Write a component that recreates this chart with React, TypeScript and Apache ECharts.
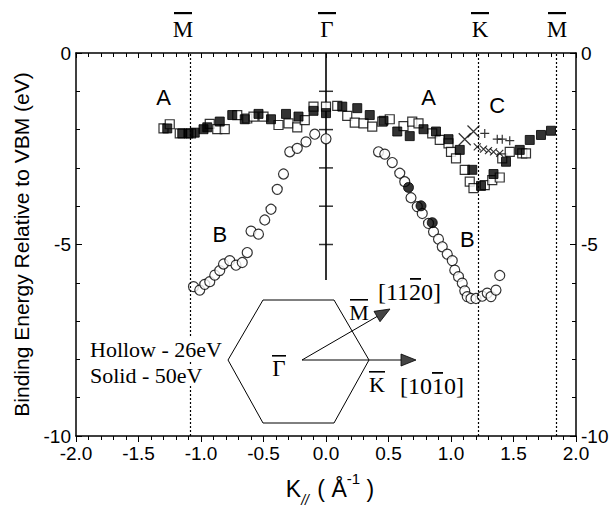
import React, { useEffect, useRef } from "react";
import * as echarts from "echarts";

// ---- data (k in 1/Å, binding energy in eV) ----
const hollowSquares: [number, number][] = [
  [-1.30, -1.97], [-1.25, -1.86], [-1.17, -2.10], [-1.08, -2.10], [-0.93, -1.85], [-0.87, -1.99],
  [-0.81, -1.99], [-0.71, -1.62], [-0.63, -1.71], [-0.58, -1.66], [-0.50, -1.66], [-0.38, -1.88],
  [-0.30, -1.84], [-0.23, -1.94], [-0.17, -1.75], [-0.10, -1.40], [0.0, -1.40], [0.09, -1.38],
  [0.17, -1.64], [0.23, -1.82], [0.30, -1.84], [0.37, -1.92], [0.45, -1.79], [0.51, -1.73],
  [0.62, -1.91], [0.69, -1.79], [0.74, -1.84], [0.85, -2.10], [0.91, -2.27], [0.98, -2.36],
  [1.00, -2.58], [1.04, -2.75], [1.11, -3.05], [1.15, -3.36], [1.18, -3.53], [1.27, -3.45],
  [1.33, -3.32], [1.39, -3.25], [1.41, -2.75], [1.47, -2.58], [1.57, -2.62], [1.60, -2.62],
];
const solidSquares: [number, number][] = [
  [-1.27, -1.97], [-1.15, -2.10], [-1.10, -2.10], [-1.05, -2.08], [-0.98, -1.99], [-0.95, -1.94],
  [-0.85, -1.79], [-0.75, -1.62], [-0.65, -1.73], [-0.54, -1.59], [-0.44, -1.73], [-0.32, -1.59],
  [-0.22, -1.66], [-0.10, -1.51], [0.0, -1.57], [0.13, -1.40], [0.25, -1.44], [0.35, -1.62],
  [0.46, -1.77], [0.57, -2.05], [0.67, -2.17], [0.78, -1.99], [0.88, -2.05], [0.98, -2.25],
  [1.07, -2.53], [1.17, -3.05], [1.24, -3.47], [1.34, -3.16], [1.44, -2.84], [1.55, -2.53],
  [1.63, -2.27], [1.72, -2.14], [1.80, -2.03],
];
const hollowCircles: [number, number][] = [
  [-1.06, -6.10], [-1.01, -6.19], [-0.97, -6.04], [-0.93, -5.97], [-0.89, -5.80], [-0.85, -5.68],
  [-0.82, -5.51], [-0.77, -5.42], [-0.72, -5.54], [-0.67, -5.47], [-0.63, -5.21], [-0.60, -4.65],
  [-0.54, -4.73], [-0.49, -4.36], [-0.44, -4.08], [-0.39, -3.56], [-0.34, -3.16], [-0.29, -2.58],
  [-0.23, -2.49], [-0.16, -2.32], [-0.09, -2.12], [0.0, -2.24],
  [0.42, -2.58], [0.47, -2.64], [0.53, -2.86], [0.59, -3.14], [0.63, -3.36], [0.68, -3.78],
  [0.73, -4.01], [0.77, -4.19], [0.82, -4.45], [0.86, -4.67], [0.90, -4.86], [0.93, -5.06],
  [0.97, -5.25], [1.01, -5.42], [1.03, -5.67], [1.06, -5.84], [1.09, -6.01], [1.11, -6.21],
  [1.13, -6.36], [1.16, -6.41], [1.20, -6.41], [1.25, -6.35], [1.29, -6.27], [1.32, -6.36],
  [1.36, -6.19], [1.39, -5.81],
];
const solidCircles: [number, number][] = [[0.66, -3.51], [0.76, -3.99], [0.85, -4.43]];
const bigCrosses: [number, number][] = [[1.18, -2.05], [1.11, -2.25]];
const smallCrosses: [number, number][] = [[1.21, -2.45], [1.26, -2.51], [1.30, -2.55], [1.34, -2.58], [1.39, -2.62]];
const plusMarks: [number, number][] = [[1.27, -2.10], [1.37, -2.25], [1.41, -2.25], [1.47, -2.29]];
const gammaTicks: number[] = [-1, -2, -3, -4, -5];
const gammaLineEnd = -5.93;
const symmetryLines: number[] = [-1.09, 1.22, 1.84];
const xTicks = { min: -2, max: 2, interval: 0.5 };
const yTicks = { min: -10, max: 0, interval: 5 };

const SANS = "Liberation Sans, Arial, sans-serif";
const SERIF = "Liberation Serif, Times New Roman, serif";

export default function App() {
  const ref = useRef<HTMLDivElement>(null);
  useEffect(() => {
    if (!ref.current) return;
    const chart = echarts.init(ref.current, null, { renderer: "svg" });
    const G = { left: 76, top: 53, width: 500, height: 383 };
    const toPx = (x: number, y: number): [number, number] => [
      G.left + ((x - xTicks.min) / (xTicks.max - xTicks.min)) * G.width,
      G.top + ((yTicks.max - y) / (yTicks.max - yTicks.min)) * G.height,
    ];
    const txt = (text: string, x: number, y: number, size: number, font: string, extra: any = {}) => ({
      type: "text",
      x,
      y,
      z: 100,
      style: { text, fontSize: size, fontFamily: font, fill: "#000", align: "center", verticalAlign: "middle", ...extra },
    });
    const bar = (x1: number, x2: number, y: number, h = 1.8) => ({
      type: "rect",
      z: 100,
      shape: { x: x1, y, width: x2 - x1, height: h },
      style: { fill: "#000" },
    });
    const letters: [string, number, number][] = [
      ["A", -1.30, -1.15],
      ["A", 0.82, -1.15],
      ["B", -0.85, -4.73],
      ["B", 1.13, -4.88],
      ["C", 1.37, -1.36],
    ];
    const topLabels: [string, number][] = [["M", 183], ["Γ", 327], ["K", 480], ["M", 557]];

    // Inset hexagon geometry (decorative Brillouin-zone sketch)
    const hex = [[263, 300], [334, 300], [369, 360], [334, 423], [263, 423], [228, 360]];
    const origin = [302, 360];
    const mTip = [390, 309];
    const kTip = [416, 360];
    const dx = mTip[0] - origin[0], dy = mTip[1] - origin[1];
    const L = Math.hypot(dx, dy);
    const ux = dx / L, uy = dy / L;
    const bx = mTip[0] - 15 * ux, by = mTip[1] - 15 * uy;
    const mHead = [[mTip[0], mTip[1]], [bx - 6 * uy, by + 6 * ux], [bx + 6 * uy, by - 6 * ux]];
    const kHead = [[kTip[0], kTip[1]], [kTip[0] - 15, kTip[1] - 6], [kTip[0] - 15, kTip[1] + 6]];

    const graphic: any[] = [
      ...letters.map(([t, x, y]) => {
        const [px, py] = toPx(x, y);
        return txt(t, px, py, 22, SANS);
      }),
      ...topLabels.map(([t, x]) => txt(t, x, 29, 23, SERIF)),
      ...topLabels.map(([, x]) => bar(x - 9, x + 9, 12, 2.2)),
      txt("Hollow - 26eV", 90, 349, 22, SERIF, { align: "left", backgroundColor: "#fff" }),
      txt("Solid - 50eV", 90, 375, 22, SERIF, { align: "left", backgroundColor: "#fff" }),
      { type: "polygon", z: 90, shape: { points: hex }, style: { fill: "none", stroke: "#000", lineWidth: 1 } },
      { type: "line", z: 90, shape: { x1: origin[0], y1: origin[1], x2: mTip[0] - 8 * ux, y2: mTip[1] - 8 * uy }, style: { stroke: "#000", lineWidth: 1 } },
      { type: "line", z: 90, shape: { x1: origin[0], y1: origin[1], x2: kTip[0] - 8, y2: kTip[1] }, style: { stroke: "#000", lineWidth: 1 } },
      { type: "polygon", z: 91, shape: { points: mHead }, style: { fill: "#444", stroke: "#000", lineWidth: 0.8 } },
      { type: "polygon", z: 91, shape: { points: kHead }, style: { fill: "#444", stroke: "#000", lineWidth: 0.8 } },
      txt("Γ", 279, 368, 23, SERIF),
      bar(272, 286, 355, 1.6),
      txt("M", 359, 312, 22, SERIF),
      bar(350, 368, 299, 1.6),
      txt("K", 377, 384, 22, SERIF),
      bar(369, 385, 371, 1.6),
      txt("[1120]", 378, 292, 24, SERIF, { align: "left" }),
      bar(410, 421, 278, 1.8),
      txt("[1010]", 400, 386, 24, SERIF, { align: "left" }),
      bar(432, 443, 372, 1.8),
      {
        type: "text",
        x: 330,
        y: 489,
        z: 100,
        style: {
          text: "{k|K}{s|//}{n| ( }{a|Å}{p|-1}{n| )}",
          align: "center",
          verticalAlign: "middle",
          rich: {
            k: { fontSize: 23, fontFamily: SANS, fill: "#000", lineHeight: 36, verticalAlign: "middle" },
            s: { fontSize: 14, fontFamily: SANS, fontStyle: "italic", fill: "#000", lineHeight: 36, verticalAlign: "bottom", padding: [0, 2, 0, 0] },
            n: { fontSize: 23, fontFamily: SANS, fill: "#000", lineHeight: 36, verticalAlign: "middle" },
            a: { fontSize: 23, fontFamily: SANS, fill: "#000", lineHeight: 36, verticalAlign: "middle" },
            p: { fontSize: 15, fontFamily: SANS, fill: "#000", lineHeight: 36, verticalAlign: "top" },
          },
        },
      },
    ];

    const axisLabel = { color: "#000", fontSize: 19, fontFamily: SANS };
    const cross = "path://M0,0L10,10M10,0L0,10";
    const plus = "path://M5,0L5,10M0,5L10,5";
    const line = { onZero: false, lineStyle: { color: "#000", width: 1.5 } };
    const tick = { color: "#000" };

    chart.setOption({
      animation: false,
      backgroundColor: "#fff",
      grid: { left: G.left, top: G.top, width: G.width, height: G.height },
      xAxis: [
        {
          type: "value",
          position: "bottom",
          min: xTicks.min,
          max: xTicks.max,
          interval: xTicks.interval,
          axisLine: line,
          axisTick: { length: 6, lineStyle: tick },
          minorTick: { show: true, splitNumber: 5, length: 4, lineStyle: tick },
          splitLine: { show: false },
          axisLabel: { ...axisLabel, margin: 8, formatter: (v: number) => v.toFixed(1) },
        },
        {
          type: "value",
          position: "top",
          min: xTicks.min,
          max: xTicks.max,
          interval: xTicks.interval,
          axisLine: line,
          axisTick: { inside: true, length: 5, lineStyle: tick },
          minorTick: { show: true, splitNumber: 5, length: 4, lineStyle: tick },
          splitLine: { show: false },
          axisLabel: { show: false },
        },
      ],
      yAxis: [
        {
          type: "value",
          position: "left",
          min: yTicks.min,
          max: yTicks.max,
          interval: yTicks.interval,
          name: "Binding Energy Relative to VBM (eV)",
          nameLocation: "middle",
          nameGap: 44,
          nameTextStyle: { color: "#000", fontSize: 21, fontFamily: SANS },
          axisLine: line,
          axisTick: { inside: true, length: 6, lineStyle: tick },
          minorTick: { show: true, splitNumber: 5, length: 4, lineStyle: tick },
          splitLine: { show: false },
          axisLabel: { ...axisLabel, margin: 5 },
        },
        {
          type: "value",
          position: "right",
          min: yTicks.min,
          max: yTicks.max,
          interval: yTicks.interval,
          axisLine: line,
          axisTick: { inside: true, length: 6, lineStyle: tick },
          minorTick: { show: true, splitNumber: 5, length: 4, lineStyle: tick },
          splitLine: { show: false },
          axisLabel: { ...axisLabel, margin: 5 },
        },
      ],
      graphic,
      series: [
        {
          type: "line",
          data: [[0, 0], [0, gammaLineEnd]],
          symbol: "none",
          lineStyle: { color: "#000", width: 1.6 },
          markLine: {
            silent: true,
            symbol: "none",
            label: { show: false },
            lineStyle: { color: "#000", type: [2, 2], width: 1.2 },
            data: symmetryLines.map((x) => ({ xAxis: x })),
          },
          z: 1,
        },
        {
          type: "scatter",
          data: gammaTicks.map((y) => [0, y]),
          symbol: "rect",
          symbolSize: [14, 1.5],
          itemStyle: { color: "#000" },
          z: 1,
        },
        {
          type: "scatter",
          data: hollowCircles,
          symbol: "circle",
          symbolSize: 10,
          itemStyle: { color: "#fff", borderColor: "#000", borderWidth: 1.2 },
        },
        {
          type: "scatter",
          data: solidCircles,
          symbol: "circle",
          symbolSize: 10,
          itemStyle: { color: "#000", borderColor: "#000", borderWidth: 1 },
        },
        {
          type: "scatter",
          data: hollowSquares,
          symbol: "rect",
          symbolSize: 9,
          itemStyle: { color: "#fff", borderColor: "#000", borderWidth: 1.2 },
        },
        {
          type: "scatter",
          data: solidSquares,
          symbol: "rect",
          symbolSize: 9,
          itemStyle: { color: "#000", borderColor: "#000", borderWidth: 1 },
        },
        {
          type: "scatter",
          data: bigCrosses,
          symbol: cross,
          symbolSize: 12,
          itemStyle: { color: "none", borderColor: "#000", borderWidth: 1.3 },
        },
        {
          type: "scatter",
          data: smallCrosses,
          symbol: cross,
          symbolSize: 7,
          itemStyle: { color: "none", borderColor: "#000", borderWidth: 1.2 },
        },
        {
          type: "scatter",
          data: plusMarks,
          symbol: plus,
          symbolSize: 9,
          itemStyle: { color: "none", borderColor: "#000", borderWidth: 1.2 },
        },
      ],
    });
    return () => chart.dispose();
  }, []);
  return <div ref={ref} style={{ position: "fixed", left: 0, top: 0, width: 616, height: 510 }} />;
}
